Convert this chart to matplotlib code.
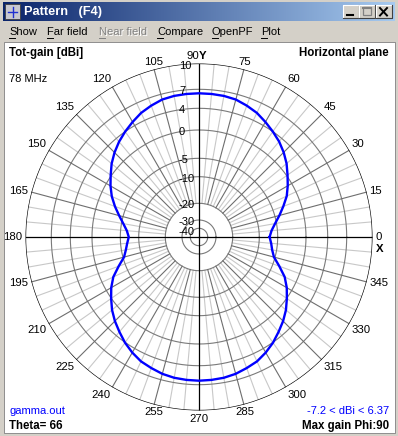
#!/usr/bin/env python3
# -*- coding: utf-8 -*-
"""
Diagramme de rayonnement (plan horizontal) - fenetre "Pattern (F4)"
"""

import numpy as np
import matplotlib
matplotlib.use("Agg")
from matplotlib import pyplot as plt
from matplotlib.patches import Rectangle

plt.rcParams['font.family'] = ['Liberation Sans', 'DejaVu Sans']

#%% Donnees lues sur le diagramme
phi_deg = np.arange(0, 361, 5)
gain_dbi = [-7.2, -6.6, -5.4, -4.2, -3.05, -1.8, -0.8, 0.2, 1.35, 2.35,
            3.25, 4.0, 4.65, 5.3, 5.75, 6.15, 6.3, 6.35, 6.37,
            6.35, 6.3, 6.15, 5.75, 5.3, 4.65, 4.0, 3.2, 2.3, 1.3,
            0.15, -0.85, -1.9, -3.1, -4.3, -5.5, -6.7, -7.3,
            -6.8, -6.2, -5.3, -3.8, -2.2, -1.0, 0.05, 1.2, 2.2, 3.1,
            4.05, 4.75, 5.35, 5.7, 6.05, 6.25, 6.33, 6.37,
            6.33, 6.25, 6.05, 5.7, 5.35, 4.75, 4.05, 3.1, 2.2, 1.2,
            0.05, -1.0, -2.2, -3.8, -5.3, -6.2, -6.7, -7.2]

ring_db = [10, 7, 4, 0, -5, -10, -20, -30, -40]
ring_labels = ['10', '7', '4', '0', '-5', '-10', '-20', '-30', '-40']
angle_ticks = np.arange(0, 360, 15)

menu_items = ['Show', 'Far field', 'Near field', 'Compare', 'OpenPF', 'Plot']

#%% Echelle radiale (echelle log propre au logiciel)
scale_db = [-50.5, -40, -30, -20, -10, -5, 0, 4, 7, 10]
scale_r = [0, 8.7, 17, 33.7, 60.3, 78.7, 107, 128.7, 147.7, 173.5]

def fwd(db):
	return np.interp(db, scale_db, scale_r)

def inv(r):
	return np.interp(r, scale_r, scale_db)

#%% Figure et habillage de la fenetre
W, H = 398, 436
cx, cy, R = 199, 237, 173.5
fig = plt.figure(figsize=(W/100, H/100), dpi=100, facecolor='#D4D0C8')

bg = fig.add_axes([0, 0, 1, 1])
bg.set_xlim(0, W)
bg.set_ylim(H, 0)
bg.axis('off')

# barre de titre en degrade
grad = np.linspace(0, 1, 256)[None, :]
cmap = matplotlib.colors.LinearSegmentedColormap.from_list('tb', ['#0A246A', '#A6CAF0'])
bg.imshow(grad, cmap=cmap, extent=(3, 395, 21.5, 3), aspect='auto', zorder=1)
bg.text(24, 12.5, 'Pattern   (F4)', color='white', fontsize=9.2, fontweight='bold',
	va='center', ha='left', zorder=3)

# icone
bg.add_patch(Rectangle((5, 4.5), 15, 15, facecolor='#C8C8D0', edgecolor='#404040', lw=0.6, zorder=2))
bg.plot([8, 17], [12, 12], color='#2030D0', lw=1, zorder=3)
bg.plot([12.5, 12.5], [7, 17], color='#2030D0', lw=1, zorder=3)

# boutons
for x0, glyph in [(343, 'min'), (359, 'max'), (376, 'close')]:
	bg.add_patch(Rectangle((x0, 5), 15.5, 13.5, facecolor='#D4D0C8', edgecolor='none', zorder=2))
	bg.plot([x0, x0, x0 + 15.5], [18.5, 5, 5], color='white', lw=0.8, zorder=3)
	bg.plot([x0, x0 + 15.5, x0 + 15.5], [18.5, 18.5, 5], color='#404040', lw=0.8, zorder=3)
	if glyph == 'min':
		bg.plot([x0 + 4, x0 + 10], [15, 15], color='black', lw=1.5, zorder=4)
	elif glyph == 'max':
		bg.add_patch(Rectangle((x0 + 3.5, 7.5), 8.5, 8, facecolor='none', edgecolor='#808080', lw=0.9, zorder=4))
		bg.plot([x0 + 3.5, x0 + 12], [8, 8], color='#808080', lw=1.5, zorder=4)
	else:
		bg.plot([x0 + 4, x0 + 11], [8, 15.5], color='black', lw=1.4, zorder=4)
		bg.plot([x0 + 4, x0 + 11], [15.5, 8], color='black', lw=1.4, zorder=4)

# menu
menu_x = [9, 47, 99, 157, 212, 261]
for xm, item in zip(menu_x, menu_items):
	col = '#808080' if item == 'Near field' else 'black'
	if item == 'Near field':
		bg.text(xm + 0.8, 32.8, item, color='white', fontsize=8, va='center', ha='left', zorder=3)
	bg.text(xm, 32, item, color=col, fontsize=8, va='center', ha='left', zorder=4)
	bg.plot([xm, xm + 6], [38.5, 38.5], color=col, lw=0.7, zorder=4)

# zone blanche
bg.add_patch(Rectangle((3.5, 42), 391, 391, facecolor='white', edgecolor='#808080', lw=0.6, zorder=1))

# textes
bg.text(9, 53, 'Tot-gain [dBi]', fontsize=8.3, fontweight='bold', va='center', ha='left', zorder=3)
bg.text(389, 53, 'Horizontal plane', fontsize=8.3, fontweight='bold', va='center', ha='right', zorder=3)
bg.text(9, 79, '78 MHz', fontsize=8, va='center', ha='left', zorder=3)
bg.text(9, 411, 'gamma.out', fontsize=8, color='#0000FF', va='center', ha='left', zorder=3)
bg.text(389, 411, '-7.2 < dBi < 6.37', fontsize=8, color='#0000FF', va='center', ha='right', zorder=3)
bg.text(9, 425.5, 'Theta= 66', fontsize=8.3, fontweight='bold', va='center', ha='left', zorder=3)
bg.text(389, 425.5, 'Max gain Phi:90', fontsize=8.3, fontweight='bold', va='center', ha='right', zorder=3)

#%% Diagramme polaire
ax = fig.add_axes([(cx - R)/W, (H - cy - R)/H, 2*R/W, 2*R/H], projection='polar')
ax.set_rscale('function', functions=(fwd, inv))
ax.set_rlim(-50.5, 10)
ax.set_axis_off()

full = np.linspace(0, 2*np.pi, 721)
for db in ring_db:
	if db == 10:
		ax.plot(full, np.full_like(full, db), color='black', lw=0.9, zorder=4)
	else:
		ax.plot(full, np.full_like(full, db), color='#7A7A7A', lw=0.8, zorder=2)

for a in range(0, 360, 5):
	th = np.deg2rad(a)
	if a % 90 == 0:
		continue
	if a % 15 == 0:
		ax.plot([th, th], [-20, 10], color='#6E6E6E', lw=0.8, zorder=2)
	else:
		ax.plot([th, th], [-20, 10], color='#C8C8C8', lw=0.8, zorder=1)

for a in (0, 90):
	th = np.deg2rad(a)
	ax.plot([th, th], [-50.5, 10], color='black', lw=0.9, zorder=3)
	ax.plot([th + np.pi, th + np.pi], [-50.5, 10], color='black', lw=0.9, zorder=3)

# courbe de gain
ax.plot(np.deg2rad(phi_deg), gain_dbi, color='#0000FF', lw=1.7, zorder=5)

# etiquettes radiales
for db, lab in zip(ring_db, ring_labels):
	dy = -3.5 if db == -40 else -2
	ax.annotate(lab, xy=(np.pi/2, db), xytext=(-20, dy), textcoords='offset pixels',
		fontsize=8, ha='left', va='center', zorder=6)

# etiquettes angulaires
for a in angle_ticks:
	th = np.deg2rad(a)
	c, s = np.cos(th), np.sin(th)
	ha = 'left' if c > 0.3 else ('right' if c < -0.3 else 'center')
	va = 'bottom' if s > 0.3 else ('top' if s < -0.3 else 'center')
	ax.annotate(str(a), xy=(th, 10), xytext=(3*c, 3*s), textcoords='offset pixels',
		fontsize=8.2, ha=('right' if a == 90 else ha), va=va, annotation_clip=False)

ax.annotate('Y', xy=(np.pi/2, 10), xytext=(0, 3), textcoords='offset pixels',
	fontsize=8.2, fontweight='bold', ha='left', va='bottom', annotation_clip=False)
ax.annotate('X', xy=(0, 10), xytext=(3, -7), textcoords='offset pixels',
	fontsize=8.2, fontweight='bold', ha='left', va='top', annotation_clip=False)

fig.savefig('out.png', dpi=100, facecolor=fig.get_facecolor())
